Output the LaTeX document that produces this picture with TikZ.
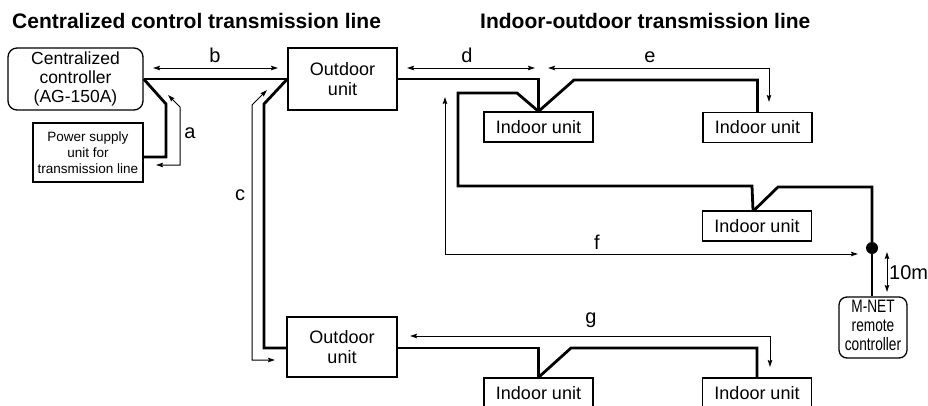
\documentclass[tikz,border=0pt]{standalone}
\usepackage{fontspec}
\setmainfont{Liberation Sans}
\usetikzlibrary{arrows.meta,calc}
\begin{document}
\begin{tikzpicture}[x=1pt,y=-1pt,
  box/.style={draw,line width=1.3pt,inner sep=0pt,align=center,font=\fontsize{18}{20}\selectfont},
  iubox/.style={box,minimum width=109pt,minimum height=30pt},
  tl/.style={line width=2.8pt,line join=miter},
  dim/.style={line width=1pt,{Stealth[length=7pt,width=4.5pt,inset=1pt]}-{Stealth[length=7pt,width=4.5pt,inset=1pt]}},
  lbl/.style={font=\fontsize{20}{20}\selectfont,inner sep=0pt},
  ttl/.style={font=\bfseries\fontsize{21}{21}\selectfont,inner sep=0pt,anchor=base west}]
\useasboundingbox (0,0) rectangle (928,405);
\clip (0,0) rectangle (928,405);

% titles
\node[ttl] (t1) at (12,28) {Centralized control transmission line};
\node[ttl] (t2) at (480,28) {Indoor-outdoor transmission line};

% boxes
\node[box,rounded corners=9pt,minimum width=135pt,minimum height=62pt,font=\fontsize{17.5}{19}\selectfont] (cc) at (75.5,79) {Centralized\\controller\\(AG-150A)};
\node[box,minimum width=110pt,minimum height=59pt,font=\fontsize{13.5}{16}\selectfont] (ps) at (88,152.5) {Power supply\\unit for\\transmission line};
\node[box,minimum width=109pt,minimum height=62pt] (ou1) at (342.5,79) {Outdoor\\unit};
\node[box,minimum width=110pt,minimum height=60pt] (ou2) at (342,347) {Outdoor\\unit};
\node[iubox] (iu1) at (538.5,127) {Indoor unit};
\node[iubox] (iu2) at (757.5,127.5) {Indoor unit};
\node[iubox] (iu3) at (757,226) {Indoor unit};
\node[iubox] (iu4) at (538.5,393) {Indoor unit};
\node[iubox] (iu5) at (757,393) {Indoor unit};
\node[box,rounded corners=8pt,minimum width=68pt,minimum height=61pt] (rc) at (873,327.5)
  {\scalebox{0.76}[1]{\fontsize{18}{19}\selectfont\begin{tabular}{@{}c@{}}M-NET\\remote\\controller\end{tabular}}};
\node[circle,fill,inner sep=0pt,minimum size=12pt] (dot) at (872,248) {};

% thick transmission lines
\draw[tl] (cc.east) -- (ou1.west);
\draw[tl] (cc.east) -- (166,104) |- ($(ps.east)+(0,4.5)$);
\draw[tl] (ou1.west) -- (264,104) |- ($(ou2.west)+(0,1)$);
\draw[tl] (ou1.east) -| (iu1.north);
\draw[tl] (iu1.north) -- (517,93) -- (458,93) |- (752,186) -- ($(iu3.north)+(-4,0)$);
\draw[tl] (iu1.north) -- (574,80) -| (iu2.north);
\draw[tl] ($(iu3.north)+(-3,0)$) -- (778,187) -| (dot);
\draw[tl] (dot) -- (dot |- rc.north);
\draw[tl] ($(ou2.east)+(0,1)$) -| (iu4.north);
\draw[tl] (iu4.north) -- (571,348) -| (iu5.north);

% dimension arrows
\draw[dim] (168,95) -- (180,107) -- (180,165) -- (156,165);
\draw[dim] (153,68) -- (278,68);
\draw[dim] (267,90) -- (252,105) -- (252,360) -- (275,360);
\draw[dim] (407,68) -- (535,68);
\draw[dim] (548,68) -- (769,68) -- (769,102);
\draw[dim] (445,97) -- (445,254) -- (858,254);
\draw[dim] (410,336) -- (770,336) -- (770,367);
\draw[dim] (887,252) -- (887,292);

% labels
\node[lbl] (la) at (190,133) {a};
\node[lbl] (lb) at (215,55) {b};
\node[lbl] (lc) at (240,195) {c};
\node[lbl] (ld) at (467,55) {d};
\node[lbl] (le) at (650,57) {e};
\node[lbl] (lf) at (597,242) {f};
\node[lbl] (lg) at (591,320) {g};
\node[lbl,anchor=west] (lm) at (889,273) {10m};
\end{tikzpicture}
\end{document}
